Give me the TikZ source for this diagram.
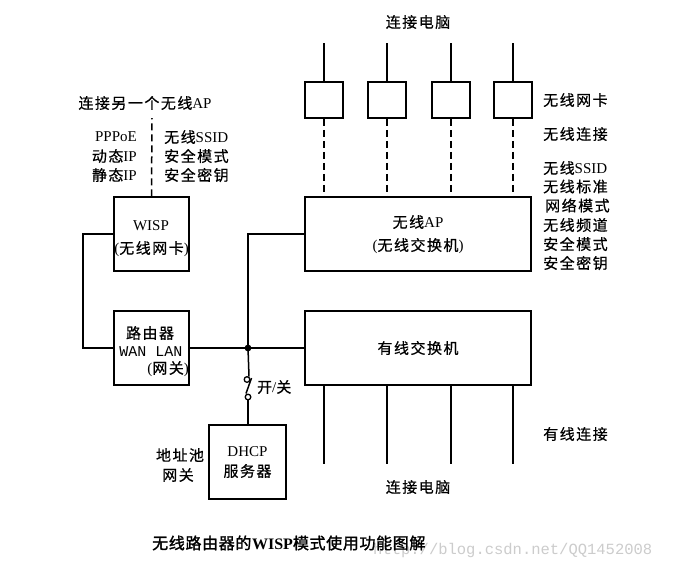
\documentclass[tikz,border=0pt]{standalone}
\usepackage{fontspec}
\usetikzlibrary{calc}
\setmainfont{Liberation Serif}
\newfontfamily\monof{Liberation Mono}
\newfontfamily\cjkf{Noto Sans CJK SC}[LetterSpace=10,FakeBold=0.6]
\newfontfamily\cjkb{Noto Sans CJK SC}[LetterSpace=4,FakeBold=1.6]
\newcommand\zh[1]{{\cjkf #1}}
\newcommand\zb[1]{{\cjkb #1}}
\begin{document}
\begin{tikzpicture}[x=1pt,y=-1pt,
  font=\fontsize{15}{18}\selectfont,
  box/.style={draw, line width=1.5pt, inner sep=0pt, align=center},
  ln/.style={line width=1.5pt},
  dsh/.style={line width=1.5pt, dash pattern=on 7pt off 4pt},
  txt/.style={inner sep=0pt},
  pc/.style={box, minimum width=38pt, minimum height=36pt}]
\useasboundingbox (0,0) rectangle (700,571);
\fill[white] (0,0) rectangle (700,571);
% boxes
\node[box, minimum width=75pt, minimum height=74pt] (wisp) at (151.5,234) {};
\node[box, minimum width=75pt, minimum height=74pt] (router) at (151.5,348) {};
\node[box, minimum width=226pt, minimum height=74pt] (ap) at (418,234) {};
\node[box, minimum width=226pt, minimum height=74pt] (ws) at (418,348) {\zh{有线交换机}};
\node[box, minimum width=77pt, minimum height=74pt] (dhcp) at (247.5,462) {};
\node[pc] (b1) at (324,100) {};
\node[pc] (b2) at (387,100) {};
\node[pc] (b3) at (451,100) {};
\node[pc] (b4) at (513,100) {};
% box texts
\node[txt] (w1) at (151,226) {WISP};
\node[txt] (w2) at (151.5,249) {(\zh{无线网卡})};
\node[txt] (a1) at (418,222) {\zh{无线}AP};
\node[txt] (a2) at (418,246) {(\zh{无线交换机})};
\node[txt] (d1) at (247.5,452) {DHCP};
\node[txt] (d2) at (247.5,471) {\zh{服务器}};
\node[txt] (rt1) at (150,333) {\zh{路由器}};
\node[txt] (rt2) at (151,352) {\monof WAN LAN};
\node[txt, anchor=east] (rt3) at (189,369) {(\zh{网关})};
% pc connectors
\foreach \b in {b1,b2,b3,b4}{
  \coordinate (\b top) at ($(\b.north)+(0,-38)$);
  \draw[ln] (\b.north) -- (\b top);
  \draw[dsh] (\b.south) -- (\b.south |- ap.north);
  \coordinate (\b bot) at ($(\b.south |- ws.south)+(0,78)$);
  \draw[ln] (\b.south |- ws.south) -- (\b bot);
}
% wisp dashed up
\coordinate (wtop) at (152,118);
\draw[dsh] (wisp.north) -- (wtop);
% wisp to router
\coordinate (lc) at (83,234);
\draw[ln] (wisp.west) -- (lc) |- (router.west);
% router to wired switch
\coordinate (J) at (248,348);
\draw[ln] (router.east) -- (ws.west);
\draw[ln] (J) |- (ap.west);
\fill (J) circle (3.4pt);
% switch
\coordinate (s1) at (247,379.5);
\coordinate (s2) at (248,397);
\draw[ln] (J) -- (249,376.5);
\draw[line width=1.3pt] (s1) circle (2.8pt);
\draw[ln] (251.5,378) -- (246,393.5);
\draw[line width=1.3pt] (s2) circle (2.8pt);
\draw[ln] (248,399.8) -- (dhcp.north -| s2);
\node[txt, anchor=west] (sw) at (257,387) {\zh{开}/\zh{关}};
% labels
\node[txt] (top) at (418,22) {\zh{连接电脑}};
\node[txt] (bot) at (418,487) {\zh{连接电脑}};
\node[txt] (other) at (145,103) {\zh{连接另一个无线}AP};
\node[txt, anchor=east] (l1) at (137,137) {PPPoE};
\node[txt, anchor=east] (l2) at (137,156) {\zh{动态}IP};
\node[txt, anchor=east] (l3) at (137,175) {\zh{静态}IP};
\node[txt, anchor=west] (r1) at (164,137) {\zh{无线}SSID};
\node[txt, anchor=west] (r2) at (164,156) {\zh{安全模式}};
\node[txt, anchor=west] (r3) at (164,175) {\zh{安全密钥}};
\node[txt, anchor=west] (n1) at (543,100) {\zh{无线网卡}};
\node[txt, anchor=west] (n2) at (543,134) {\zh{无线连接}};
\node[txt, anchor=west] (n3) at (543,168) {\zh{无线}SSID};
\node[txt, anchor=west] (n4) at (543,186.5) {\zh{无线标准}};
\node[txt, anchor=west] (n5) at (545,205.5) {\zh{网络模式}};
\node[txt, anchor=west] (n6) at (543,225) {\zh{无线频道}};
\node[txt, anchor=west] (n7) at (543,244) {\zh{安全模式}};
\node[txt, anchor=west] (n8) at (543,263) {\zh{安全密钥}};
\node[txt, anchor=west] (n9) at (543,434) {\zh{有线连接}};
\node[txt] (pool) at (180,455) {\zh{地址池}};
\node[txt] (gw) at (178,475) {\zh{网关}};
\node[txt, anchor=west, text=black!20, font=\fontsize{15.5}{18}\selectfont\monof] (wm) at (373,550) {http://blog.csdn.net/QQ1452008};
\node[txt, anchor=west, font=\fontsize{16}{18}\selectfont] (cap) at (152,543) {\zb{无线路由器的}\textbf{WISP}\zb{模式使用功能图解}};
\end{tikzpicture}
\end{document}
